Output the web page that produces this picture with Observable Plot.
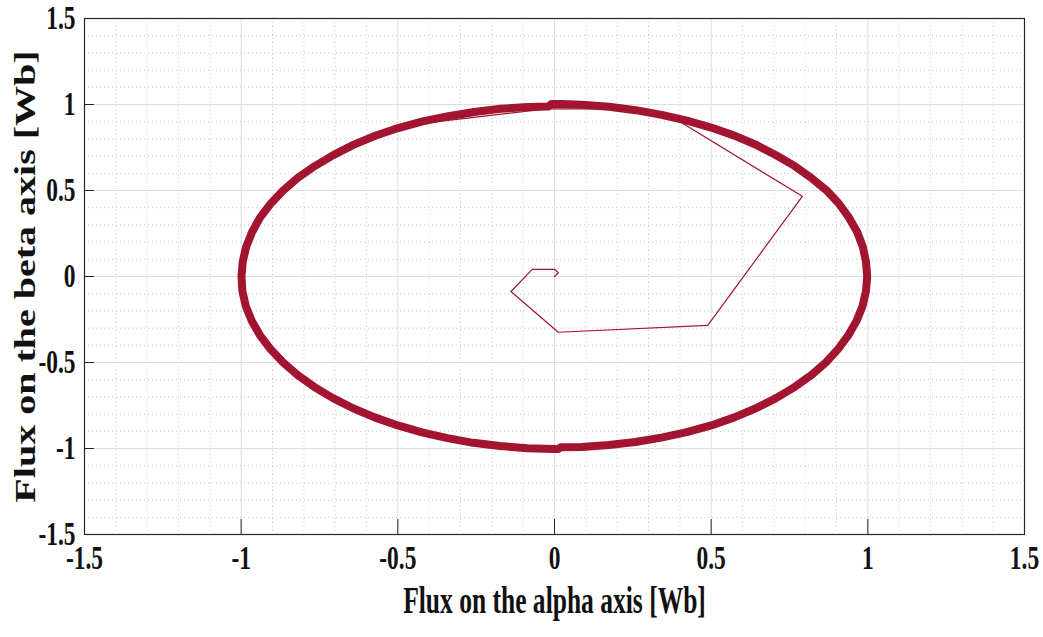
<!DOCTYPE html>
<html>
<head>
<meta charset="utf-8">
<script src="https://cdn.jsdelivr.net/npm/d3@7"></script>
<script src="https://cdn.jsdelivr.net/npm/@observablehq/plot@0.6"></script>
<style>
  body { margin: 0; background: #ffffff; }
  svg { display: block; }
</style>
</head>
<body>
<div id="chart"></div>
<script>
// Tick values (same for both axes)
const majorTicks = [-1.5, -1, -0.5, 0, 0.5, 1, 1.5];
const minorTicks = [-1.4, -1.3, -1.2, -1.1, -0.9, -0.8, -0.7, -0.6, -0.4, -0.3, -0.2, -0.1,
                    0.1, 0.2, 0.3, 0.4, 0.6, 0.7, 0.8, 0.9, 1.1, 1.2, 1.3, 1.4];

// Steady-state stator flux locus (alpha, beta) in Wb
const ringAlpha = [
  0.998, 0.994, 0.984, 0.966, 0.940, 0.908, 0.868, 0.819, 0.766, 0.706, 0.643, 0.574, 0.500, 0.423,
  0.342, 0.259, 0.174, 0.087, 0.020, -0.010, -0.020, -0.086, -0.172, -0.256, -0.339, -0.421, -0.499,
  -0.572, -0.642, -0.706, -0.765, -0.819, -0.866, -0.906, -0.940, -0.965, -0.984, -0.995, -0.999,
  -0.996, -0.985, -0.966, -0.940, -0.906, -0.866, -0.819, -0.766, -0.707, -0.643, -0.574, -0.500,
  -0.423, -0.342, -0.259, -0.174, -0.087, 0.000, 0.012, 0.020, 0.087, 0.173, 0.258, 0.341, 0.422,
  0.500, 0.574, 0.643, 0.707, 0.766, 0.819, 0.866, 0.905, 0.938, 0.964, 0.983, 0.994
];
const ringBeta = [
  0.000, 0.087, 0.173, 0.259, 0.342, 0.423, 0.501, 0.574, 0.643, 0.706, 0.766, 0.819, 0.866, 0.906,
  0.940, 0.967, 0.987, 0.999, 1.003, 1.003, 0.988, 0.986, 0.975, 0.956, 0.932, 0.902, 0.863,
  0.818, 0.765, 0.706, 0.642, 0.574, 0.500, 0.423, 0.342, 0.259, 0.173, 0.087, 0.000,
  -0.087, -0.174, -0.259, -0.342, -0.423, -0.500, -0.574, -0.643, -0.707, -0.766, -0.819, -0.866,
  -0.906, -0.940, -0.967, -0.986, -0.998, -1.003, -1.003, -0.993, -0.991, -0.980, -0.962, -0.937, -0.905,
  -0.866, -0.819, -0.766, -0.707, -0.643, -0.574, -0.500, -0.422, -0.341, -0.258, -0.173, -0.087
];

// Start-up transient from the origin to the circular locus
const startAlpha = [0.000, 0.012, 0.001, -0.071, -0.139, 0.012, 0.489, 0.791, 0.389, 0.200, -0.023, -0.380];
const startBeta  = [0.000, 0.022, 0.041, 0.041, -0.087, -0.324, -0.284, 0.466, 0.913, 0.975, 0.975, 0.899];

const ring = ringAlpha.map((a, i) => ({alpha: a, beta: ringBeta[i]}));
const start = startAlpha.map((a, i) => ({alpha: a, beta: startBeta[i]}));

const lineColor = "#a2142f";
const axisColor = "#262626";

const chart = Plot.plot({
  width: 1043,
  height: 637,
  marginLeft: 84,
  marginRight: 19,
  marginTop: 18,
  marginBottom: 103,
  x: {domain: [-1.5, 1.5], axis: null},
  y: {domain: [-1.5, 1.5], axis: null},
  style: {fontFamily: "'Liberation Serif', 'Times New Roman', serif", background: "#ffffff"},
  marks: [
    // minor dotted grid
    Plot.ruleX(minorTicks, {stroke: "#c8c8c8", strokeDasharray: "1,3", strokeWidth: 1}),
    Plot.ruleY(minorTicks, {stroke: "#c8c8c8", strokeDasharray: "1,3", strokeWidth: 1}),
    // major grid
    Plot.ruleX(majorTicks, {stroke: "#dedede", strokeWidth: 1}),
    Plot.ruleY(majorTicks, {stroke: "#dedede", strokeWidth: 1}),
    // flux loci
    Plot.line(ring, {x: "alpha", y: "beta", stroke: lineColor, strokeWidth: 8, curve: "linear-closed", strokeLinejoin: "round"}),
    Plot.line(start, {x: "alpha", y: "beta", stroke: lineColor, strokeWidth: 1.2}),
    // inward tick marks
    Plot.ruleX(majorTicks, {insetTop: 501, stroke: axisColor, strokeWidth: 1}),
    Plot.ruleY(majorTicks, {insetRight: 930, stroke: axisColor, strokeWidth: 1}),
    Plot.frame({stroke: axisColor, strokeWidth: 1.2}),
    // tick labels
    Plot.text(majorTicks, {x: d => d, frameAnchor: "bottom", dy: 34, text: d => String(d),
      fontSize: 34, fontWeight: "bold", fill: "#111"}),
    Plot.text(majorTicks, {y: d => d, frameAnchor: "left", dx: -9, textAnchor: "end", text: d => String(d),
      fontSize: 34, fontWeight: "bold", fill: "#111"}),
    // axis titles
    Plot.text(["Flux on the alpha axis [Wb]"], {frameAnchor: "bottom", dy: 78, text: d => d,
      fontSize: 37, fontWeight: "bold", fill: "#111"}),
    Plot.text(["Flux on the beta axis [Wb]"], {frameAnchor: "left", dx: -59, rotate: -90, textAnchor: "middle",
      text: d => d, fontSize: 29, fontWeight: "bold", fill: "#111"})
  ]
});

// narrow the serif lettering: upright text is condensed, rotated text is lengthened
d3.select(chart).selectAll("text").each(function () {
  const t = this.getAttribute("transform") || "";
  if (t.includes("rotate")) this.setAttribute("transform", t + " scale(1.38,1)");
  else this.setAttribute("transform", t + " scale(0.69,1)");
});

document.getElementById("chart").appendChild(chart);
</script>
</body>
</html>
